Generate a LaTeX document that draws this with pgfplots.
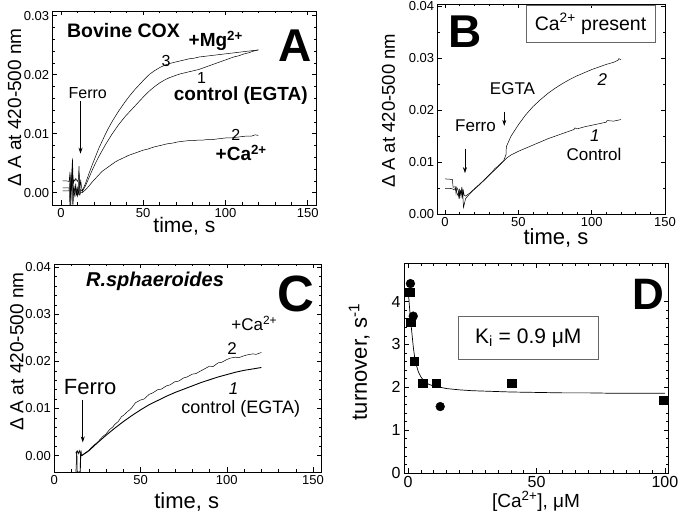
\documentclass[border=0pt]{standalone}
\usepackage{fontspec}
\setmainfont{Liberation Sans}
\usepackage{pgfplots}
\pgfplotsset{compat=1.18}
\usetikzlibrary{arrows.meta}
\newcommand{\fs}[1]{\fontsize{#1}{#1}\selectfont}
\pgfplotsset{panel/.style={
  scale only axis, anchor=south west,
  axis line style={line width=0.7pt},
  tick align=inside, tick pos=both,
  major tick length=4.5pt, minor tick length=2.5pt,
  every tick/.append style={line width=0.6pt, black},
  /pgf/number format/assume math mode=true,
  scaled ticks=false,
  tick label style={font=\fs{13}},
  xtick={0,50,100,150}, minor x tick num=4,
  y tick label style={/pgf/number format/.cd, fixed, fixed zerofill, precision=2, /tikz/.cd},
}}
\tikzset{arr/.style={-{Stealth[length=6pt,width=4pt]}, line width=0.6pt}}
\begin{document}
\begin{tikzpicture}
\path[use as bounding box] (0,0) rectangle (680pt,519pt);
% ---------------- A
\begin{axis}[panel, at={(52.7pt,314pt)}, width=263.3pt, height=194pt,
  xmin=-5, xmax=155, ymin=-0.0021, ymax=0.0308,
  ytick={0,0.01,0.02,0.03}, minor y tick num=4,
  xlabel={time, s}, ylabel={Δ A at 420-500 nm},
  xlabel style={at={(axis description cs:0.5,-0.14)}, anchor=base, font=\fs{21}},
  ylabel style={at={(axis description cs:-0.12,0.503)}, anchor=base, font=\fs{19}}]
\addplot[black, line width=0.5pt] coordinates {(1,0.0020)(3,0.0020)(5,0.0019)(5.5,0.0035)(6,-0.0025)(6.5,0.0025)(7,0.0058)(7.5,0.0015)(8,0.0022)(8.5,0.0020)(9,0.0024)(10,0.0019)(10.5,0.0021)(11,0.0045)(11.5,0.0002)(12,0.0022)(12.5,0.0010)(13,0.0003)(15,0.0016)(17,0.0032)(19,0.0047)(21,0.0061)(23,0.0075)(25,0.0087)(27,0.0099)(29,0.0110)(31,0.0120)(33,0.0129)(35,0.0138)(37,0.0146)(39,0.0154)(42,0.0165)(45,0.0175)(48,0.0184)(51,0.0193)(54,0.0201)(57,0.0207)(60,0.0212)(63,0.0216)(66,0.0219)(69,0.0221)(72,0.0223)(75,0.0225)(78,0.0227)(81,0.0228)(84,0.0230)(87,0.0231)(90,0.0232)(93,0.0233)(96,0.0234)(99,0.0235)(102,0.0236)(105,0.0237)(108,0.0238)(111,0.0239)(114,0.0240)(117,0.0241)(120,0.0242)};
\addplot[black, line width=0.5pt] coordinates {(1,0.0008)(3,0.0008)(5,0.0008)(5.5,-0.0025)(6,0.0030)(6.5,0.0004)(7,0.0045)(7.5,-0.0005)(8,0.0010)(8.5,0.0000)(9,0.0015)(9.5,-0.0005)(10,0.0008)(10.5,-0.0004)(11,0.0030)(11.5,-0.0005)(12,0.0005)(13,0.0002)(15,0.0012)(17,0.0025)(19,0.0038)(21,0.0050)(23,0.0061)(25,0.0071)(27,0.0081)(29,0.0090)(31,0.0099)(33,0.0107)(35,0.0115)(37,0.0122)(39,0.0129)(42,0.0138)(45,0.0147)(48,0.0156)(51,0.0165)(54,0.0173)(57,0.0180)(60,0.0186)(63,0.0191)(66,0.0195)(69,0.0198)(72,0.0201)(75,0.0203)(78,0.0205)(81,0.0207)(84,0.0209)(87,0.0212)(90,0.0215)(93,0.0218)(96,0.0221)(99,0.0224)(102,0.0227)(105,0.0230)(108,0.0232)(111,0.0235)(114,0.0237)(117,0.0240)(120,0.0242)};
\addplot[black, line width=0.5pt] coordinates {(1,0.0003)(4,0.0003)(5,0.0003)(5.5,0.0020)(6,-0.0010)(7,0.0050)(7.2,-0.0025)(8,0.0005)(8.5,-0.0008)(9,0.0010)(10,-0.0006)(10.5,0.0005)(11,-0.0004)(12,0.0000)(13,0.0000)(15,0.0005)(17,0.0011)(19,0.0018)(21,0.0024)(23,0.0030)(25,0.0036)(27,0.0040)(29,0.0044)(31,0.0048)(33,0.0052)(35,0.0055)(38,0.0059)(41,0.0063)(44,0.0066)(47,0.0069)(50,0.0072)(53,0.0074)(56,0.0077)(59,0.0079)(62,0.0081)(65,0.0083)(68,0.0084)(71,0.0086)(74,0.0087)(77,0.0088)(80,0.0088)(83,0.0089)(86,0.0089)(89,0.0090)(92,0.0090)(95,0.0091)(98,0.0092)(101,0.0093)(104,0.0093)(107,0.0094)(110,0.0095)(113,0.0096)(116,0.0096)(118,0.0098)(120,0.0097)};
\draw[arr] (axis cs:11.9,0.0155) -- (axis cs:11.9,0.0066);
\node[anchor=base west, font=\fs{19.5}\bfseries] at (axis cs:1.6,0.0263) {Bovine COX};
\node[anchor=base, font=\fs{46}\bfseries] at (axis cs:142.6,0.0222) {A};
\node[anchor=base west, font=\fs{19}\bfseries] at (axis cs:75.5,0.02475) {+Mg\textsuperscript{2+}};
\node[anchor=base, font=\fs{16}] at (axis cs:63.9,0.02136) {3};
\node[anchor=base, font=\fs{16}] at (axis cs:85.5,0.01854) {1};
\node[anchor=base west, font=\fs{19}\bfseries] at (axis cs:66.5,0.0156) {control (EGTA)};
\node[anchor=base, font=\fs{16}] at (axis cs:106.3,0.0089) {2};
\node[anchor=base west, font=\fs{19}\bfseries] at (axis cs:91.9,0.0054) {+Ca\textsuperscript{2+}};
\node[anchor=base, font=\fs{16}] at (axis cs:16.3,0.016) {Ferro};
\end{axis}
% ---------------- B
\begin{axis}[panel, at={(437.7pt,304.7pt)}, width=227.3pt, height=210.3pt,
  xmin=-5, xmax=150, ymin=0, ymax=0.0404,
  ytick={0,0.01,0.02,0.03,0.04}, minor y tick num=1,
  xlabel={time, s}, ylabel={Δ A at 420-500 nm},
  xlabel style={at={(axis description cs:0.52,-0.146)}, anchor=base, font=\fs{22}},
  ylabel style={at={(axis description cs:-0.188,0.492)}, anchor=base, font=\fs{18.5}}]
\addplot[black, line width=0.5pt] coordinates {(0,0.0050)(3,0.0050)(5,0.0049)(6,0.0047)(7,0.0050)(8,0.0042)(9,0.0035)(9.5,0.0048)(10,0.0030)(10.5,0.0045)(11,0.0040)(11.5,0.0050)(12,0.0042)(12.6,0.0013)(14,0.0030)(17,0.0040)(20,0.0048)(24,0.0058)(28,0.0069)(32,0.0080)(36,0.0091)(40,0.0102)(42,0.0108)(45,0.0114)(50,0.0121)(55,0.0127)(60,0.0133)(65,0.0139)(70,0.0145)(75,0.0150)(80,0.0155)(85,0.0160)(88,0.0163)(88.5,0.0166)(90,0.0164)(95,0.0168)(100,0.0171)(105,0.0174)(110,0.0177)(110.5,0.0180)(115,0.0179)(120,0.0182)};
\addplot[black, line width=0.5pt] coordinates {(0,0.0068)(5,0.0067)(5.5,0.0052)(7,0.0053)(7.5,0.0040)(8,0.0052)(9,0.0045)(9.5,0.0030)(10,0.0047)(11,0.0035)(11.5,0.0052)(12,0.0030)(12.5,0.0045)(13,0.0037)(14,0.0035)(15,0.0037)(17,0.0041)(20,0.0049)(24,0.0059)(28,0.0070)(32,0.0081)(34,0.0088)(36,0.0092)(40,0.0103)(41.6,0.0115)(41.8,0.0130)(45,0.0150)(50,0.0172)(55,0.0191)(60,0.0207)(65,0.0220)(70,0.0232)(75,0.0242)(80,0.0251)(85,0.0259)(90,0.0266)(95,0.0272)(100,0.0278)(105,0.0283)(110,0.0288)(115,0.0292)(118,0.0296)(118.5,0.0299)(120,0.0297)};
\draw[arr] (axis cs:13.6,0.0126) -- (axis cs:13.6,0.0079);
\draw[arr] (axis cs:40.4,0.0197) -- (axis cs:40.4,0.0170);
\node[anchor=base, font=\fs{46}\bfseries] at (axis cs:13.6,0.0320) {B};
\node[draw=black!60, line width=0.5pt, minimum width=129pt, minimum height=36.6pt, inner sep=0pt, font=\fs{19.5}] at (axis cs:99.2,0.03656) {Ca\textsuperscript{2+} present};
\node[anchor=base, font=\fs{17}] at (axis cs:46,0.02297) {EGTA};
\node[anchor=base, font=\fs{17}] at (axis cs:20.8,0.01585) {Ferro};
\node[anchor=base, font=\fs{17}\itshape] at (axis cs:107.2,0.0247) {2};
\node[anchor=base, font=\fs{17}\itshape] at (axis cs:102.2,0.0139) {1};
\node[anchor=base, font=\fs{17}] at (axis cs:101.6,0.01035) {Control};
\end{axis}
% ---------------- C
\begin{axis}[panel, at={(54.3pt,47pt)}, width=267.4pt, height=208pt,
  xmin=0, xmax=155, ymin=-0.0035, ymax=0.0407,
  ytick={0,0.01,0.02,0.03,0.04}, minor y tick num=4,
  xlabel={time, s}, ylabel={Δ A at 420-500 nm},
  xlabel style={at={(axis description cs:0.495,-0.175)}, anchor=base, font=\fs{22}},
  ylabel style={at={(axis description cs:-0.116,0.578)}, anchor=base, font=\fs{19}}]
\addplot[black, line width=0.9pt] coordinates {(12.5,0.0005)(13,0.0008)(13.2,-0.0035)(14,-0.0035)(15,-0.0035)(15.3,0.0003)(16,0.0000)(18,0.0005)(20,0.0010)(25,0.0027)(30,0.0043)(35,0.0058)(40,0.0072)(45,0.0085)(50,0.0097)(55,0.0108)(60,0.0117)(65,0.0126)(70,0.0134)(75,0.0141)(80,0.0148)(85,0.0155)(90,0.0161)(95,0.0167)(100,0.0172)(105,0.0177)(110,0.0181)(115,0.0184)(120,0.0187)};
\addplot[black, line width=0.5pt] coordinates {(12.5,-0.0035)(13,0.0005)(13.5,0.0010)(14,0.0004)(14.5,0.0011)(15,0.0004)(15.5,0.0010)(16,0.0000)(18,0.0006)(20,0.0011)(22,0.0019)(25,0.0028)(28,0.0040)(30,0.0046)(32,0.0055)(34,0.0061)(35,0.0066)(37,0.0072)(39,0.0083)(40,0.0085)(42,0.0092)(44,0.0098)(45,0.0102)(47,0.0112)(50,0.0118)(52,0.0120)(55,0.0130)(57,0.0133)(60,0.0140)(62,0.0141)(65,0.0148)(67,0.0150)(70,0.0157)(72,0.0158)(75,0.0165)(77,0.0167)(80,0.0173)(82,0.0174)(85,0.0180)(87,0.0184)(90,0.0190)(92,0.0189)(95,0.0197)(97,0.0198)(100,0.0204)(102,0.0207)(105,0.0209)(107,0.0208)(110,0.0212)(112,0.0214)(115,0.0216)(117,0.0215)(120,0.0219)};
\draw[arr] (axis cs:16.5,0.0118) -- (axis cs:16.5,0.0028);
\node[anchor=base west, font=\fs{20}\bfseries\itshape] at (axis cs:16.4,0.0359) {R.sphaeroides};
\node[anchor=base, font=\fs{51}\bfseries] at (axis cs:140.3,0.03057) {C};
\node[anchor=base west, font=\fs{17}] at (axis cs:100.6,0.02654) {+Ca\textsuperscript{2+}};
\node[anchor=base, font=\fs{17}] at (axis cs:103,0.02138) {2};
\node[anchor=base, font=\fs{17}\itshape] at (axis cs:104,0.01289) {1};
\node[anchor=base west, font=\fs{18}] at (axis cs:71.6,0.00885) {control (EGTA)};
\node[anchor=base, font=\fs{22}] at (axis cs:20.8,0.01289) {Ferro};
\end{axis}
% ---------------- D
\begin{axis}[panel, at={(404pt,46pt)}, width=264pt, height=210pt,
  xmin=-1.6, xmax=101.2, ymin=0, ymax=4.9,
  xtick={0,50,100}, minor x tick num=9,
  ytick={0,1,2,3,4}, minor y tick num=4,
  tick label style={font=\fs{16}},
  y tick label style={/pgf/number format/.cd, fixed, precision=0, /tikz/.cd},
  xlabel={[Ca\textsuperscript{2+}], μM}, ylabel={turnover, s\textsuperscript{-1}},
  xlabel style={at={(axis description cs:0.5,-0.163)}, anchor=base, font=\fs{19}},
  ylabel style={at={(axis description cs:-0.141,0.53)}, anchor=base, font=\fs{22}}]
\addplot[black, line width=0.7pt] coordinates {(0,4.30)(0.25,4.10)(0.5,3.90)(0.75,3.72)(1.0,3.55)(1.5,3.25)(2,2.95)(2.5,2.72)(3,2.56)(4,2.36)(5,2.24)(6,2.16)(8,2.07)(10,2.03)(12.5,2.00)(15,1.97)(20,1.94)(25,1.92)(30,1.91)(40,1.89)(50,1.88)(60,1.87)(70,1.87)(80,1.86)(90,1.86)(100,1.86)};
\addplot[only marks, mark=square*, mark size=4.1pt, black] coordinates {(0.6,4.22)(1.0,3.52)(2.3,2.60)(5.7,2.10)(10.8,2.10)(40.3,2.10)(99.3,1.69)};
\addplot[only marks, mark=*, mark size=4.4pt, black] coordinates {(0.9,4.42)(2.0,3.66)(12.5,1.55)};
\node[anchor=base, font=\fs{44}\bfseries] at (axis cs:93.5,3.81) {D};
\node[draw=black!60, line width=0.5pt, minimum width=140pt, minimum height=43.3pt, inner sep=0pt, font=\fs{21}] at (axis cs:46.8,3.15) {K\textsubscript{i} = 0.9 μM};
\end{axis}
\end{tikzpicture}
\end{document}
